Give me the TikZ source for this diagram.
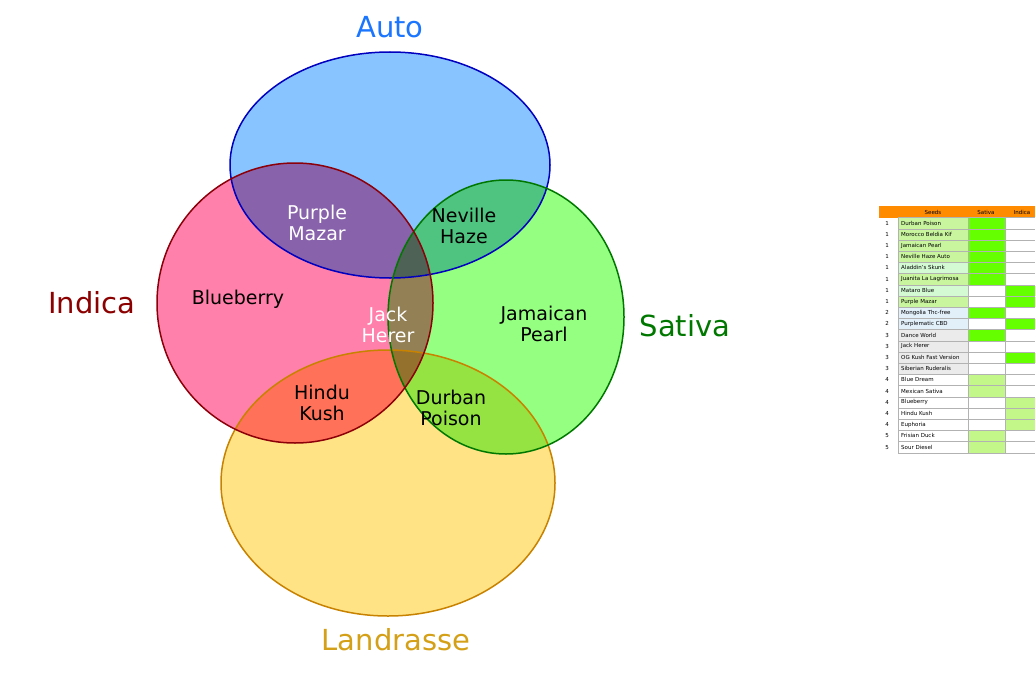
\documentclass[tikz,border=0pt]{standalone}
\usepackage{fontspec}
\setmainfont{DejaVu Sans}
\begin{document}
\begin{tikzpicture}[x=1pt,y=-1pt,
  lab/.style={font=\fontsize{19}{21}\selectfont,align=center},
  title/.style={font=\fontsize{29}{31}\selectfont},
  cell/.style={draw=gray!60,line width=0.3pt},
  tt/.style={font=\fontsize{5.5}{6}\selectfont,inner sep=0pt,anchor=west}]
\useasboundingbox (0,0) rectangle (1035,682);
\definecolor{cA}{HTML}{88C4FF}\definecolor{cI}{HTML}{FF80AA}
\definecolor{cS}{HTML}{94FF80}\definecolor{cL}{HTML}{FFE385}
\definecolor{g1}{HTML}{66FF00}\definecolor{g2}{HTML}{C4F78A}
\definecolor{s1}{HTML}{C8F59E}\definecolor{s2}{HTML}{D4FAD4}
\definecolor{s3}{HTML}{E2F0FA}\definecolor{s4}{HTML}{EBEBEB}
\begin{scope}[blend group=multiply]
\fill[cL] (388,483) ellipse [x radius=167,y radius=133];
\fill[cA] (390,165) ellipse [x radius=160,y radius=113];
\fill[cS] (506,317) ellipse [x radius=118,y radius=137];
\fill[cI] (295,303) ellipse [x radius=138,y radius=140];
\end{scope}
\draw[line width=1.5pt,color={rgb,255:red,200;green,130;blue,0}] (388,483) ellipse [x radius=167,y radius=133];
\draw[line width=1.5pt,color={rgb,255:red,0;green,0;blue,190}] (390,165) ellipse [x radius=160,y radius=113];
\draw[line width=1.5pt,color={rgb,255:red,0;green,120;blue,0}] (506,317) ellipse [x radius=118,y radius=137];
\draw[line width=1.5pt,color={rgb,255:red,140;green,0;blue,10}] (295,303) ellipse [x radius=138,y radius=140];
\node[title,text={rgb,255:red,26;green,117;blue,255}] (tA) at (390,27) {Auto};
\node[title,text={rgb,255:red,139;green,0;blue,0}] (tI) at (92,303) {Indica};
\node[title,text={rgb,255:red,0;green,120;blue,0}] (tS) at (685,326) {Sativa};
\node[title,text={rgb,255:red,212;green,160;blue,23}] (tL) at (396,640) {Landrasse};
\node[lab,text=white] (pm) at (317,223) {Purple\\Mazar};
\node[lab] (nh) at (464,226) {Neville\\Haze};
\node[lab] (bb) at (238,299) {Blueberry};
\node[lab,text=white] (jh) at (388,325) {Jack\\Herer};
\node[lab] (jp) at (544,324) {Jamaican\\Pearl};
\node[lab] (hk) at (322,403) {Hindu\\Kush};
\node[lab] (dp) at (451,408) {Durban\\Poison};
% table
\fill[orange!90!yellow] (879,206) rectangle (1035,217.5);
\node[tt,anchor=center] (hs) at (933,212) {Seeds};
\node[tt,anchor=center] (hv) at (986,212) {Sativa};
\node[tt,anchor=center] (hi) at (1022,212) {Indica};
\foreach [count=\i] \n/\nm/\sc/\sv/\ic in {
1/Durban Poison/s1/g1/white,1/Morocco Beldia Kif/s1/g1/white,1/Jamaican Pearl/s1/g1/white,
1/Neville Haze Auto/s1/g1/white,1/Aladdin's Skunk/s2/g1/white,1/Juanita La Lagrimosa/s1/g1/white,
1/Mataro Blue/s2/white/g1,1/Purple Mazar/s1/white/g1,2/Mongolia Thc-free/s3/g1/white,
2/Purplematic CBD/s3/white/g1,3/Dance World/s4/g1/white,3/Jack Herer/s4/white/white,
3/OG Kush Fast Version/s4/white/g1,3/Siberian Ruderalis/s4/white/white,4/Blue Dream/white/g2/white,
4/Mexican Sativa/white/g2/white,4/Blueberry/white/white/g2,4/Hindu Kush/white/white/g2,
4/Euphoria/white/white/g2,5/Frisian Duck/white/g2/white,5/Sour Diesel/white/g2/white}{
  \pgfmathsetmacro\ya{217.5+(\i-1)*11.2}
  \pgfmathsetmacro\yb{\ya+11.2}
  \pgfmathsetmacro\ym{\ya+5.6}
  \filldraw[cell,fill=\sc] (898,\ya) rectangle (968,\yb);
  \filldraw[cell,fill=\sv] (968,\ya) rectangle (1005,\yb);
  \filldraw[cell,fill=\ic] (1005,\ya) rectangle (1040,\yb);
  \node[tt,anchor=center] at (887,\ym) {\n};
  \node[tt] at (901,\ym) {\nm};
}
\end{tikzpicture}
\end{document}
